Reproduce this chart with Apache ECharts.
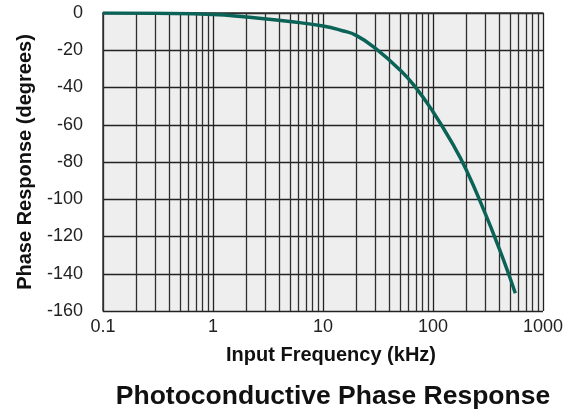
<!DOCTYPE html>
<html>
<head>
<meta charset="utf-8">
<script src="https://cdn.jsdelivr.net/npm/echarts@6/dist/echarts.min.js"></script>
<style>
html,body{margin:0;padding:0;background:#fff;}
#chart{width:584px;height:409px;}
</style>
</head>
<body>
<div id="chart"></div>
<script>
// Frequency (kHz) and phase (degrees)
var freqKHz = [0.1, 0.3, 1, 2, 5, 10, 15, 20, 30, 50, 70, 100, 150, 200, 300, 400, 500, 560];
var phaseDeg = [0, -0.2, -0.8, -2.2, -4.6, -7.0, -9.5, -12.0, -19.0, -30.5, -40.2, -53.0, -70.0, -84.0, -108.0, -126.5, -142.0, -150.5];
var xTickLabels = ['0.1', '1', '10', '100', '1000'];
var minorFreqs = [0.2,0.3,0.4,0.5,0.6,0.7,0.8,0.9, 2,3,4,5,6,7,8,9, 20,30,40,50,60,70,80,90, 200,300,400,500,600,700,800,900];

var FONT = '"Liberation Sans", Arial, Helvetica, sans-serif';
var chart = echarts.init(document.getElementById('chart'), null, {renderer: 'canvas'});
var pts = freqKHz.map(function (f, i) { return [f, phaseDeg[i]]; });

chart.setOption({
  animation: false,
  backgroundColor: '#ffffff',
  title: {
    text: 'Photoconductive Phase Response',
    left: 328, top: 378, textAlign: 'center',
    textStyle: {fontFamily: FONT, fontWeight: 'bold', fontSize: 26.5, color: '#111'}
  },
  grid: {
    left: 103, top: 13, width: 440, height: 298,
    show: true, backgroundColor: '#eeeeee', borderWidth: 0
  },
  xAxis: {
    type: 'log', logBase: 10, min: 0.1, max: 1000,
    name: 'Input Frequency (kHz)', nameLocation: 'middle', nameGap: 34,
    nameTextStyle: {fontFamily: FONT, fontWeight: 'bold', fontSize: 20, color: '#111', padding: [0, 0, 0, 16]},
    axisLine: {show: true, lineStyle: {color: '#333', width: 1.5}},
    axisTick: {show: false},
    axisLabel: {
      margin: 7, fontFamily: FONT, fontSize: 18, color: '#222',
      formatter: function (v, i) { return xTickLabels[i]; }
    },
    splitLine: {show: true, lineStyle: {color: '#222', width: 1.3}}
  },
  yAxis: {
    type: 'value', min: -160, max: 0, interval: 20,
    name: 'Phase Response (degrees)', nameLocation: 'middle', nameGap: 68,
    nameTextStyle: {fontFamily: FONT, fontWeight: 'bold', fontSize: 20, color: '#111'},
    axisLine: {show: true, lineStyle: {color: '#333', width: 1.5}},
    axisTick: {show: false},
    axisLabel: {margin: 20, fontFamily: FONT, fontSize: 18, color: '#222'},
    splitLine: {show: true, lineStyle: {color: '#222', width: 1.3}}
  },
  series: [
    {
      type: 'line', data: [], z: 1, silent: true,
      markLine: {
        silent: true, symbol: ['none', 'none'], animation: false,
        label: {show: false},
        lineStyle: {color: '#2e2e2e', width: 1.3, type: 'solid'},
        emphasis: {disabled: true},
        data: minorFreqs.map(function (v) { return {xAxis: v}; })
      }
    },
    {
      type: 'line', data: pts, z: 5, smooth: 0.5, showSymbol: false,
      lineStyle: {color: '#0b6358', width: 3.5}
    }
  ]
});
</script>
</body>
</html>
